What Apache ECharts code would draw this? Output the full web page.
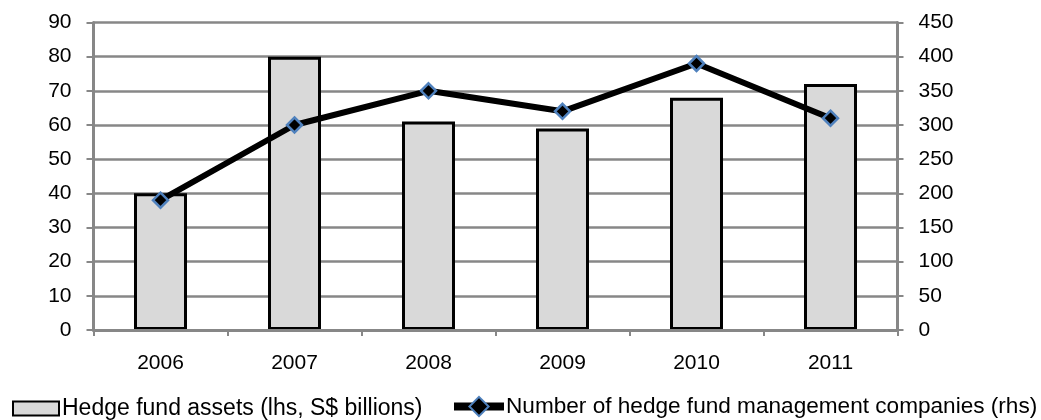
<!DOCTYPE html>
<html>
<head>
<meta charset="utf-8">
<script src="https://cdn.jsdelivr.net/npm/echarts@6/dist/echarts.min.js"></script>
<style>
  html, body { margin: 0; padding: 0; background: #ffffff; }
  #chart { width: 1041px; height: 420px; }
</style>
</head>
<body>
<div id="chart"></div>
<script>
// Singapore hedge fund industry, 2006-2011
const years = ['2006', '2007', '2008', '2009', '2010', '2011'];
const assetsBn = [40, 80, 61, 59, 68, 72];           // lhs, S$ billions
const managerCount = [190, 300, 350, 320, 390, 310];  // rhs, number of companies

const assetsName = 'Hedge fund assets (lhs, S$ billions)';
const countName = 'Number of hedge fund management companies (rhs)';

const font = '"Liberation Sans", Arial, sans-serif';
const gridGray = '#878787';

const chart = echarts.init(document.getElementById('chart'), null, { renderer: 'canvas' });

chart.setOption({
  animation: false,
  backgroundColor: '#ffffff',
  textStyle: { fontFamily: font },
  grid: { left: 93.5, right: 143.5, top: 22.5, bottom: 90, containLabel: false },
  legend: [
    {
      left: 12,
      top: 397,
      padding: 0,
      itemWidth: 46,
      itemHeight: 14,
      textStyle: { fontFamily: font, fontSize: 23, color: '#000000', padding: [0, 0, 0, -2] },
      data: [{ name: assetsName, icon: 'rect' }]
    },
    {
      left: 450,
      top: 395,
      padding: 0,
      itemWidth: 50,
      itemHeight: 24,
      lineStyle: { width: 8 },
      textStyle: { fontFamily: font, fontSize: 22.6, color: '#000000', padding: [0, 0, 0, -3] },
      data: [{ name: countName }]
    }
  ],
  xAxis: {
    type: 'category',
    data: years,
    z: 5,
    axisLine: { lineStyle: { color: gridGray, width: 3 } },
    axisTick: { show: true, length: 6, lineStyle: { color: gridGray, width: 2 } },
    axisLabel: { color: '#000000', fontSize: 21, fontFamily: font, margin: 23 },
    splitLine: { show: false }
  },
  yAxis: [
    {
      type: 'value',
      min: 0, max: 90, interval: 10,
      position: 'left',
      axisLine: { show: true, lineStyle: { color: gridGray, width: 3 } },
      axisTick: { show: true, length: 7, lineStyle: { color: gridGray, width: 2 } },
      axisLabel: { color: '#000000', fontSize: 21, fontFamily: font, margin: 22 },
      splitLine: { show: true, lineStyle: { color: gridGray, width: 2.5 } }
    },
    {
      type: 'value',
      min: 0, max: 450, interval: 50,
      position: 'right',
      axisLine: { show: true, lineStyle: { color: gridGray, width: 3 } },
      axisTick: { show: true, length: 6, lineStyle: { color: gridGray, width: 2 } },
      axisLabel: { color: '#000000', fontSize: 21, fontFamily: font, margin: 21 },
      splitLine: { show: false }
    }
  ],
  series: [
    {
      name: assetsName,
      type: 'bar',
      yAxisIndex: 0,
      data: assetsBn,
      barWidth: 53,
      itemStyle: { color: '#d9d9d9', borderColor: '#000000', borderWidth: 3 }
    },
    {
      name: countName,
      type: 'line',
      yAxisIndex: 1,
      data: managerCount,
      z: 4,
      lineStyle: { color: '#000000', width: 6 },
      symbol: 'diamond',
      symbolSize: 15,
      showSymbol: true,
      itemStyle: { color: '#000000', borderColor: '#4f81bd', borderWidth: 2.5 }
    }
  ]
});
</script>
</body>
</html>
